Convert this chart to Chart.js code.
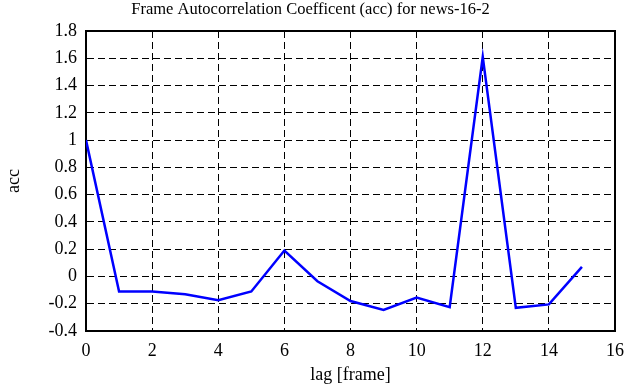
<!DOCTYPE html>
<html lang="en">

<head>
    <meta charset="UTF-8">
    <title>Frame Autocorrelation Coefficent</title>
    <script src="https://cdn.jsdelivr.net/npm/chart.js"></script>
    <style>
        html, body { margin: 0; padding: 0; background: #fff; }
        #box { width: 624px; height: 387px; }
    </style>
</head>

<body>
    <div id="box"><canvas id="accChart"></canvas></div>
    <script>
        // values
        const lags = [0, 1, 2, 3, 4, 5, 6, 7, 8, 9, 10, 11, 12, 13, 14, 15];
        const acc = [1.0, -0.11, -0.11, -0.13, -0.175, -0.11, 0.19, -0.035, -0.18, -0.245, -0.155, -0.225, 1.61, -0.23, -0.205, 0.07];
        const xTicks = [0, 2, 4, 6, 8, 10, 12, 14, 16];
        const yTicks = [-0.4, -0.2, 0, 0.2, 0.4, 0.6, 0.8, 1, 1.2, 1.4, 1.6, 1.8];

        const serif = 'Liberation Serif';
        const points = lags.map(function (l, i) { return { x: l, y: acc[i] }; });

        // grid lines are dashed through border.dash in v4
        const dashGrid = { color: '#000', lineWidth: 1, drawTicks: false };
        const frame = { display: true, color: '#000', width: 2, dash: [7, 4] };

        const ctx = document.getElementById('accChart');
        const accChart = new Chart(ctx, {
            type: 'line',
            data: {
                datasets: [{
                    label: 'acc',
                    data: points,
                    borderColor: '#0000ff',
                    borderWidth: 2.5,
                    pointRadius: 0,
                    tension: 0,
                    fill: false
                }]
            },
            options: {
                responsive: true,
                maintainAspectRatio: false,
                animation: false,
                layout: { padding: { left: 0, right: 3, top: 0, bottom: 0 } },
                plugins: {
                    legend: { display: false },
                    tooltip: { enabled: false },
                    title: {
                        display: true,
                        text: 'Frame Autocorrelation Coefficent (acc) for news-16-2',
                        color: '#000',
                        font: { family: serif, size: 16.5, weight: 'normal' },
                        padding: { top: 0, bottom: 11.2 }
                    }
                },
                scales: {
                    x: {
                        type: 'linear',
                        min: 0,
                        max: 16,
                        afterBuildTicks: function (s) { s.ticks = xTicks.map(function (v) { return { value: v }; }); },
                        afterFit: function (s) { s.height = 56; s.paddingRight = 9; },
                        grid: dashGrid,
                        border: frame,
                        ticks: {
                            color: '#000',
                            padding: 9,
                            maxRotation: 0,
                            font: { family: serif, size: 18 },
                            callback: function (v) { return String(v); }
                        },
                        title: {
                            display: true,
                            text: 'lag [frame]',
                            color: '#000',
                            font: { family: serif, size: 18 },
                            padding: { top: 0, bottom: 1 }
                        }
                    },
                    y: {
                        min: -0.4,
                        max: 1.8,
                        afterBuildTicks: function (s) { s.ticks = yTicks.map(function (v) { return { value: v }; }); },
                        afterFit: function (s) { s.width = 86; },
                        grid: dashGrid,
                        border: frame,
                        ticks: {
                            color: '#000',
                            padding: 9,
                            font: { family: serif, size: 18 },
                            callback: function (v) { return String(Math.round(v * 10) / 10); }
                        },
                        title: {
                            display: true,
                            text: 'acc',
                            color: '#000',
                            font: { family: serif, size: 18 },
                            padding: { top: 3, bottom: 0 }
                        }
                    },
                    // frame on top and right
                    x2: {
                        type: 'linear',
                        position: 'top',
                        min: 0,
                        max: 16,
                        afterFit: function (s) { s.height = 0; },
                        grid: { color: 'rgba(0,0,0,0)', drawTicks: false },
                        border: { display: true, color: '#000', width: 2 },
                        ticks: { display: false }
                    },
                    y2: {
                        type: 'linear',
                        position: 'right',
                        min: -0.4,
                        max: 1.8,
                        afterFit: function (s) { s.width = 0; },
                        grid: { color: 'rgba(0,0,0,0)', drawTicks: false },
                        border: { display: true, color: '#000', width: 2 },
                        ticks: { display: false }
                    }
                }
            }
        });
    </script>
</body>

</html>
